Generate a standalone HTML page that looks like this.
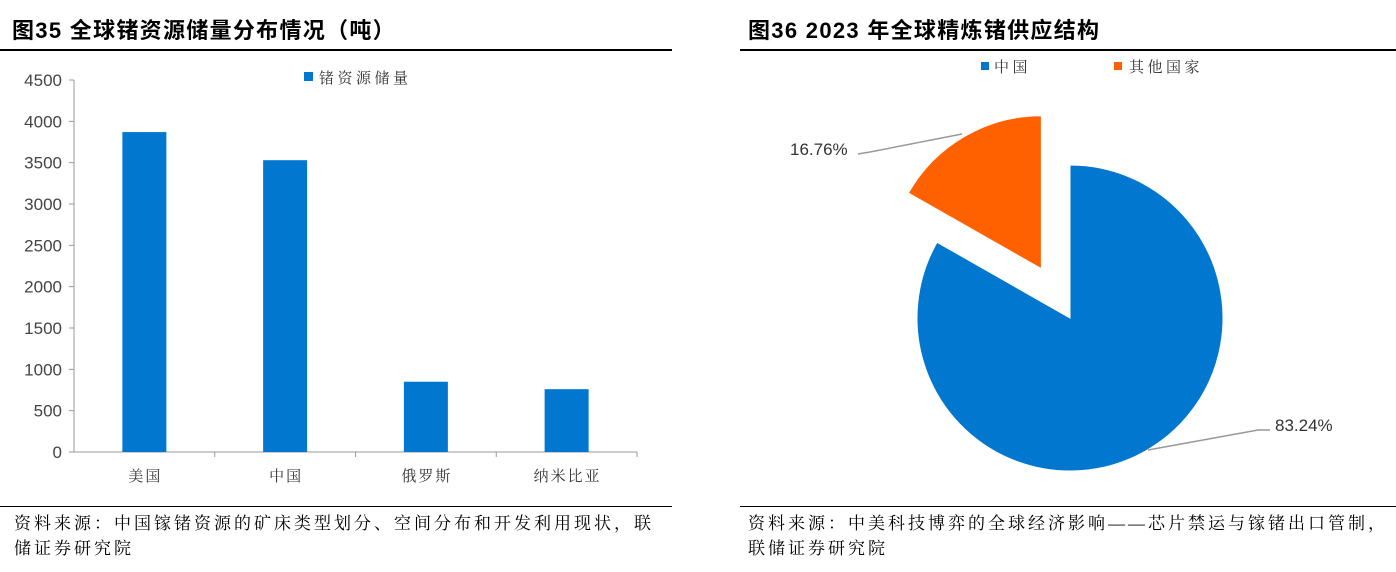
<!DOCTYPE html>
<html><head><meta charset="utf-8"><style>
body{margin:0;width:1396px;height:572px;background:#fff;overflow:hidden;position:relative;font-family:"Liberation Sans","Noto Sans CJK SC",sans-serif}
.t{position:absolute;font-weight:bold;font-size:22px;letter-spacing:1.3px;color:#000;top:13px;white-space:nowrap}
.hl{position:absolute;height:2px;background:#000}
.src{position:absolute;font-family:"Liberation Serif","Noto Serif CJK SC",serif;font-size:17px;letter-spacing:3px;line-height:25px;color:#000;white-space:nowrap}
svg{position:absolute;left:0;top:0}
</style></head><body>
<div class="t" style="left:12px">图35 全球锗资源储量分布情况（吨）</div>
<div class="t" style="left:748px">图36 2023 年全球精炼锗供应结构</div>
<div class="hl" style="left:0;width:672px;top:49px"></div>
<div class="hl" style="left:740px;width:656px;top:49px"></div>
<div class="hl" style="left:0;width:672px;top:506px;height:1px"></div>
<div class="hl" style="left:740px;width:656px;top:506px;height:1px"></div>
<div class="src" style="left:14px;top:511px">资料来源：中国镓锗资源的矿床类型划分、空间分布和开发利用现状，联<br>储证券研究院</div>
<div class="src" style="left:748px;top:511px">资料来源：中美科技博弈的全球经济影响——芯片禁运与镓锗出口管制，<br>联储证券研究院</div>
<svg width="1396" height="572" id="svg"></svg>
<script>
const categories=["美国","中国","俄罗斯","纳米比亚"];
const reserves=[3870,3530,850,760];
const yTicks=[0,500,1000,1500,2000,2500,3000,3500,4000,4500];
const pieLabels=["中国","其他国家"];
const pieValues=[83.24,16.76];
const pieColors=["#0277CF","#FF6100"];
const NS="http://www.w3.org/2000/svg";
const svg=document.getElementById('svg');
function mk(tag,attrs,name,text){const e=document.createElementNS(NS,tag);for(const k in attrs)e.setAttribute(k,attrs[k]);


if(text!==undefined)e.textContent=text;svg.appendChild(e);return e;}
const CJK='Liberation Serif, Noto Serif CJK SC, serif';
const x0=74,x1=637,yb=452,yt=80,ymax=4500;
const Y=v=>yb-(v/ymax)*(yb-yt);
const band=(x1-x0)/categories.length;
const X=i=>x0+band*(i+0.5);
mk('line',{x1:x0,y1:yt,x2:x0,y2:yb,stroke:'#999','stroke-width':1},'y-axis-line');
mk('line',{x1:x0,y1:yb,x2:x1,y2:yb,stroke:'#999','stroke-width':1},'x-axis-line');
yTicks.forEach(v=>{mk('line',{x1:x0-5,y1:Y(v),x2:x0,y2:Y(v),stroke:'#999'},'y-tick');
mk('text',{x:x0-12,y:Y(v)+6,'text-anchor':'end','font-size':17,fill:'#444','font-family':'Liberation Sans, sans-serif'},'y-tick-label',String(v));});
categories.forEach((c,i)=>{mk('line',{x1:x0+band*(i+1),y1:yb,x2:x0+band*(i+1),y2:yb+5,stroke:'#999'},'x-tick');
mk('rect',{x:X(i)-22,y:Y(reserves[i]),width:44,height:yb-Y(reserves[i]),fill:'#0277CF'},'bar-'+i);
mk('text',{x:X(i)+1,y:481,'text-anchor':'middle','font-size':15,'letter-spacing':2,fill:'#333','font-family':CJK},'x-tick-label',c);});
mk('rect',{x:304,y:72,width:9,height:9,fill:'#0277CF'},'legend-swatch');
mk('text',{x:319,y:83,'font-size':15,'letter-spacing':3.5,fill:'#333','font-family':CJK},'legend-label','锗资源储量');
const cx=1070,cy=318,r=153;
let acc=0;const tot=pieValues.reduce((a,b)=>a+b,0);
pieValues.forEach((v,i)=>{const a0=acc/tot*2*Math.PI,a1=(acc+v)/tot*2*Math.PI;acc+=v;
const am=(a0+a1)/2;const off=i==1?57:0;const ox=cx+off*Math.sin(am),oy=cy-off*Math.cos(am);
const p=(a)=>[ox+r*Math.sin(a),oy-r*Math.cos(a)];const s=p(a0),e=p(a1);
mk('path',{d:`M${ox},${oy}L${s[0]},${s[1]}A${r},${r} 0 ${a1-a0>Math.PI?1:0} 1 ${e[0]},${e[1]}Z`,fill:pieColors[i],stroke:'#fff','stroke-width':1},'pie-slice-'+i);});
mk('polyline',{points:'858,154 870,152 962,134',fill:'none',stroke:'#999','stroke-width':1.5},'leader-line-other');
mk('text',{x:790,y:155,'font-size':17,fill:'#333','font-family':'Liberation Sans, sans-serif'},'pie-label-other',pieValues[1].toFixed(2)+'%');
mk('polyline',{points:'1148,450 1258,430 1270,430',fill:'none',stroke:'#999','stroke-width':1.5},'leader-line-china');
mk('text',{x:1275,y:431,'font-size':17,fill:'#333','font-family':'Liberation Sans, sans-serif'},'pie-label-china',pieValues[0].toFixed(2)+'%');
mk('rect',{x:981,y:62,width:8,height:8,fill:pieColors[0]},'legend-swatch-china');
mk('text',{x:994,y:72,'font-size':15,'letter-spacing':3.5,fill:'#333','font-family':CJK},'legend-label-china',pieLabels[0]);
mk('rect',{x:1114,y:62,width:8,height:8,fill:pieColors[1]},'legend-swatch-other');
mk('text',{x:1129,y:72,'font-size':15,'letter-spacing':3.5,fill:'#333','font-family':CJK},'legend-label-other',pieLabels[1]);
</script>
</body></html>
